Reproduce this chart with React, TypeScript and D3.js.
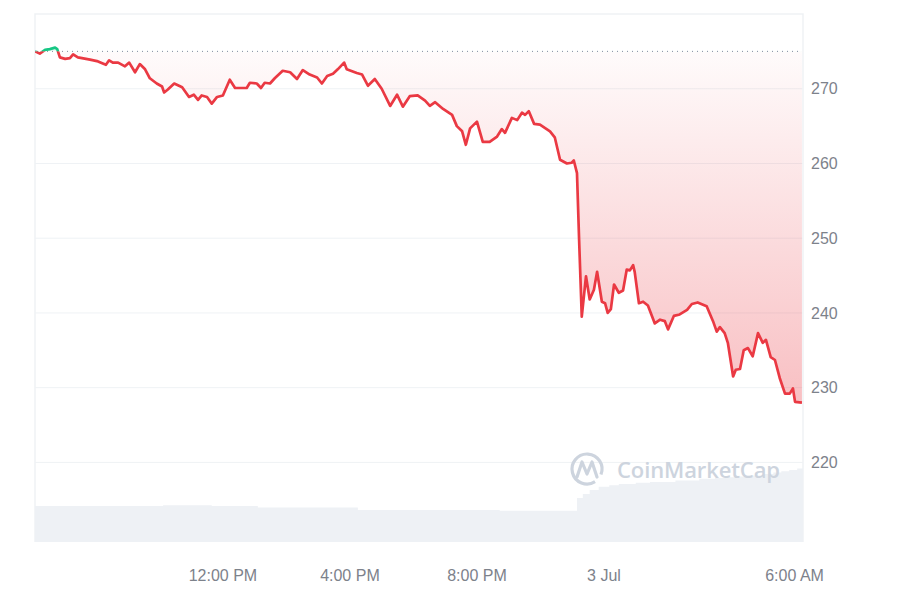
import React, { useEffect, useRef } from 'react'
import * as d3 from 'd3'

// price readings, 2 Jul 06:05 -> 3 Jul 06:14 (clock time, rolls over at midnight)
const priceTimes = [
  '06:05', '06:14', '06:24', '06:33', '06:43', '06:47', '06:52', '07:02', '07:11', '07:17',
  '07:26', '07:49', '08:02', '08:12', '08:19', '08:25', '08:32', '08:42', '08:55', '09:03',
  '09:14', '09:23', '09:33', '09:42', '09:55', '10:05', '10:09', '10:16', '10:28', '10:43',
  '10:56', '11:05', '11:13', '11:20', '11:30', '11:39', '11:49', '12:00', '12:13', '12:23',
  '12:45', '12:51', '13:04', '13:12', '13:19', '13:29', '13:38', '13:53', '14:07', '14:20',
  '14:31', '14:44', '14:58', '15:07', '15:17', '15:28', '15:37', '15:49', '15:54', '16:13',
  '16:23', '16:34', '16:47', '17:00', '17:16', '17:29', '17:40', '17:53', '18:08', '18:22',
  '18:31', '18:41', '18:56', '19:13', '19:22', '19:32', '19:39', '19:47', '20:00', '20:11',
  '20:24', '20:38', '20:47', '20:53', '21:06', '21:16', '21:25', '21:31', '21:38', '21:48',
  '21:59', '22:18', '22:27', '22:37', '22:50', '22:59', '23:03', '23:09', '23:13', '23:18',
  '23:26', '23:33', '23:41', '23:47', '23:56', '00:02', '00:07', '00:13', '00:19', '00:28',
  '00:36', '00:43', '00:49', '00:55', '00:58', '01:06', '01:14', '01:23', '01:36', '01:46',
  '01:55', '02:01', '02:12', '02:23', '02:37', '02:46', '02:57', '03:14', '03:26', '03:33',
  '03:39', '03:48', '03:54', '04:04', '04:09', '04:17', '04:24', '04:32', '04:41', '04:51',
  '05:00', '05:06', '05:15', '05:23', '05:32', '05:42', '05:51', '05:57', '06:01', '06:14',
]
const priceValues = [
  275.0, 274.7, 275.2, 275.3, 275.5, 275.3, 274.2, 274.0, 274.1, 274.6,
  274.2, 273.9, 273.7, 273.4, 273.2, 273.8, 273.5, 273.5, 273.0, 273.5,
  272.2, 273.3, 272.6, 271.4, 270.7, 270.3, 269.5, 269.9, 270.7, 270.2,
  268.9, 269.2, 268.5, 269.1, 268.9, 268.0, 268.9, 269.1, 271.2, 270.1,
  270.1, 270.8, 270.7, 270.1, 270.8, 270.7, 271.4, 272.4, 272.2, 271.3,
  272.5, 271.9, 271.5, 270.7, 271.7, 272.0, 272.6, 273.5, 272.6, 272.1,
  271.9, 270.4, 271.3, 270.0, 267.7, 269.2, 267.6, 269.0, 269.1, 268.4,
  267.7, 268.2, 267.3, 266.5, 265.0, 264.3, 262.5, 264.7, 265.6, 262.9,
  262.9, 263.6, 264.6, 264.1, 266.1, 265.8, 266.8, 266.5, 267.0, 265.3,
  265.2, 264.3, 263.5, 260.5, 260.0, 260.1, 260.4, 258.7, 249.8, 239.5,
  244.9, 241.8, 243.1, 245.5, 241.5, 241.3, 240.0, 240.5, 243.8, 242.7,
  243.0, 245.8, 245.7, 246.4, 245.5, 241.3, 241.5, 241.0, 238.6, 239.1,
  238.9, 237.8, 239.6, 239.8, 240.4, 241.2, 241.4, 240.9, 238.9, 237.5,
  238.1, 237.3, 236.0, 231.5, 232.4, 232.5, 235.0, 235.3, 234.2, 237.3,
  236.0, 236.4, 234.1, 233.7, 231.3, 229.2, 229.2, 229.9, 228.1, 228.0,
]

// traded volume (billions, rough)
const volumeTimes = [
  '06:05', '10:07', '11:39', '13:06', '16:15', '20:43', '23:09', '23:20', '23:33', '23:50',
  '00:10', '00:28', '01:00', '01:27', '02:15', '03:00', '03:30', '03:50', '04:15', '04:35',
  '05:00', '05:20', '05:35', '05:50', '06:05', '06:16',
]
const volumeValues = [
  4.5, 4.6, 4.5, 4.3, 4.0, 3.9, 5.5, 6.0, 6.5, 6.9,
  7.1, 7.25, 7.4, 7.5, 7.7, 7.9, 8.0, 8.1, 8.2, 8.3,
  8.5, 8.7, 8.85, 9.0, 9.2, 9.2,
]

const openPrice = 275.0
const priceTicks = [220, 230, 240, 250, 260, 270]
const timeTicks = ['12:00', '16:00', '20:00', '00:00', '06:00']
const timeTickLabels = ['12:00 PM', '4:00 PM', '8:00 PM', '3 Jul', '6:00 AM']

// turn a run of "HH:MM" strings into dates starting on 2 Jul, bumping the day after midnight
function toDates(times: string[], firstHour = 6): Date[] {
  let day = 2
  let prev = firstHour
  return times.map(t => {
    const [h, m] = t.split(':').map(Number)
    if (h < prev) day += 1
    prev = h
    return new Date(2024, 6, day, h, m)
  })
}

const RED = '#ea3943'
const GREEN = '#16c784'
const GRID = '#eff2f5'
const LABEL = '#7d828b'
const FONT = '"Liberation Sans", Arial, sans-serif'

export default function App() {
  const ref = useRef<SVGSVGElement>(null)

  useEffect(() => {
    const svg = d3.select(ref.current!)
    svg.selectAll('*').remove()

    const left = 35
    const right = 803
    const top = 14
    const bottom = 542

    const pts = toDates(priceTimes).map((d, i) => ({ date: d, price: priceValues[i] }))
    const vols = toDates(volumeTimes).map((d, i) => ({ date: d, vol: volumeValues[i] }))

    const x = d3
      .scaleTime()
      .domain([new Date(2024, 6, 2, 6, 5), new Date(2024, 6, 3, 6, 16)])
      .range([left, right])
    const y = d3.scaleLinear().domain([209.35, 280]).range([bottom, top])
    const yVol = d3.scaleLinear().domain([0, 10]).range([bottom, 462])

    const yBase = y(openPrice)
    const yMin = y(d3.min(priceValues)!)

    const defs = svg.append('defs')
    const grad = defs
      .append('linearGradient')
      .attr('id', 'redFill')
      .attr('gradientUnits', 'userSpaceOnUse')
      .attr('x1', 0)
      .attr('x2', 0)
      .attr('y1', yBase)
      .attr('y2', yMin)
    grad.append('stop').attr('offset', 0).attr('stop-color', RED).attr('stop-opacity', 0.02)
    grad.append('stop').attr('offset', 1).attr('stop-color', RED).attr('stop-opacity', 0.32)

    defs
      .append('clipPath')
      .attr('id', 'belowBase')
      .append('rect')
      .attr('x', left)
      .attr('y', yBase)
      .attr('width', right - left)
      .attr('height', bottom - yBase)
    defs
      .append('clipPath')
      .attr('id', 'aboveBase')
      .append('rect')
      .attr('x', left)
      .attr('y', top)
      .attr('width', right - left)
      .attr('height', yBase - top)

    // grid
    svg
      .append('g')
      .selectAll('line')
      .data(priceTicks)
      .join('line')
      .attr('x1', left)
      .attr('x2', right)
      .attr('y1', d => y(d))
      .attr('y2', d => y(d))
      .attr('stroke', GRID)
      .attr('stroke-width', 1)

    // frame
    svg
      .append('path')
      .attr('d', `M${left},${bottom}V${top}H${right}V${bottom}`)
      .attr('fill', 'none')
      .attr('stroke', GRID)
      .attr('stroke-width', 1.5)

    // volume
    svg
      .append('path')
      .datum(vols)
      .attr(
        'd',
        d3
          .area<{ date: Date; vol: number }>()
          .curve(d3.curveStepAfter)
          .x(d => x(d.date))
          .y0(bottom)
          .y1(d => yVol(d.vol))
      )
      .attr('fill', '#eef1f5')

    // watermark
    const wm = svg.append('g').attr('fill', 'none').attr('stroke', '#cdd4de').attr('stroke-width', 3.2)
    wm.append('path')
      .attr('d', d3.arc()({ innerRadius: 15, outerRadius: 15, startAngle: Math.PI * 0.82, endAngle: Math.PI * 2.62 }) as string)
      .attr('transform', 'translate(587,469)')
    wm.append('path')
      .attr('d', 'M577,477 L582,462 L587,474 L592,462 L597,477')
      .attr('stroke-linejoin', 'round')
      .attr('stroke-linecap', 'round')
    svg
      .append('text')
      .attr('x', 617)
      .attr('y', 478)
      .attr('textLength', 163)
      .attr('fill', '#cdd4de')
      .style('font', `600 22px "Open Sans", ${FONT}`)
      .text('CoinMarketCap')

    // area between price and opening price
    const area = d3
      .area<{ date: Date; price: number }>()
      .x(d => x(d.date))
      .y0(yBase)
      .y1(d => y(d.price))
    svg.append('path').datum(pts).attr('d', area).attr('fill', 'url(#redFill)').attr('clip-path', 'url(#belowBase)')
    svg
      .append('path')
      .datum(pts)
      .attr('d', area)
      .attr('fill', GREEN)
      .attr('fill-opacity', 0.08)
      .attr('clip-path', 'url(#aboveBase)')

    // opening price dotted line
    svg
      .append('line')
      .attr('x1', left + 2)
      .attr('x2', right - 2)
      .attr('y1', yBase)
      .attr('y2', yBase)
      .attr('stroke', '#808a9d')
      .attr('stroke-width', 1)
      .attr('stroke-dasharray', '1,4')

    // price line, red below open, green above
    const line = d3
      .line<{ date: Date; price: number }>()
      .x(d => x(d.date))
      .y(d => y(d.price))
    for (const [clip, color] of [['belowBase', RED], ['aboveBase', GREEN]]) {
      svg
        .append('path')
        .datum(pts)
        .attr('d', line)
        .attr('fill', 'none')
        .attr('stroke', color)
        .attr('stroke-width', 2.7)
        .attr('stroke-linejoin', 'round')
        .attr('clip-path', `url(#${clip})`)
    }

    // y labels on the right
    svg
      .append('g')
      .selectAll('text')
      .data(priceTicks)
      .join('text')
      .attr('x', 811)
      .attr('y', d => y(d))
      .attr('dy', '0.35em')
      .attr('fill', LABEL)
      .style('font', `16px ${FONT}`)
      .text(d => d)

    // time labels
    svg
      .append('g')
      .selectAll('text')
      .data(toDates(timeTicks, 12))
      .join('text')
      .attr('x', d => x(d))
      .attr('y', 581)
      .attr('text-anchor', 'middle')
      .attr('fill', LABEL)
      .style('font', `16px ${FONT}`)
      .text((_d, i) => timeTickLabels[i])
  }, [])

  return (
    <svg
      ref={ref}
      width={900}
      height={600}
      style={{ position: 'absolute', left: 0, top: 0, background: '#fff' }}
    />
  )
}
